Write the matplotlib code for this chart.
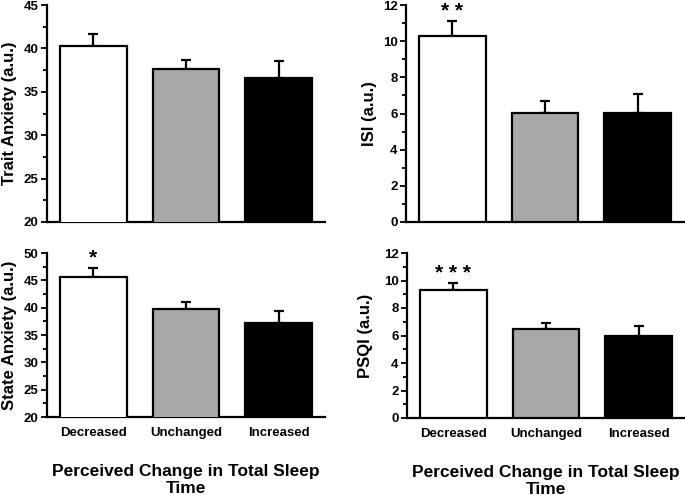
import matplotlib
matplotlib.use("Agg")
import matplotlib.pyplot as plt
import numpy as np
from matplotlib.ticker import MultipleLocator, AutoMinorLocator

plt.rcParams['font.family'] = ['Liberation Sans', 'DejaVu Sans']
plt.rcParams['font.weight'] = 'bold'
plt.rcParams['axes.labelweight'] = 'bold'

# data
groups = ["Decreased", "Unchanged", "Increased"]
bar_colors = ["white", "#a8a8a8", "black"]

trait_mean = [40.3, 37.6, 36.6]
trait_err = [1.4, 1.1, 1.9]
isi_mean = [10.3, 6.05, 6.05]
isi_err = [0.8, 0.65, 1.05]
state_mean = [45.6, 39.8, 37.2]
state_err = [1.7, 1.3, 2.2]
psqi_mean = [9.3, 6.5, 6.0]
psqi_err = [0.5, 0.4, 0.7]

trait_sig = ["", "", ""]
isi_sig = ["**", "", ""]
state_sig = ["*", "", ""]
psqi_sig = ["***", "", ""]

# (mean, err, sig, ylabel, ylim, major step, axes rect, label x, bottom row)
panels = [
    (trait_mean, trait_err, trait_sig, "Trait Anxiety (a.u.)", (20, 45), 5,
     [47/685, 1-222/495, 278/685, 217/495], -0.108, False),
    (isi_mean, isi_err, isi_sig, "ISI (a.u.)", (0, 12), 2,
     [406/685, 1-222/495, 278/685, 217/495], -0.105, False),
    (state_mean, state_err, state_sig, "State Anxiety (a.u.)", (20, 50), 5,
     [47/685, 1-417/495, 278/685, 164/495], -0.108, True),
    (psqi_mean, psqi_err, psqi_sig, "PSQI (a.u.)", (0, 12), 2,
     [407/685, 1-418/495, 278/685, 165/495], -0.123, True),
]

fig = plt.figure(figsize=(6.85, 4.95), dpi=100)
x = np.arange(len(groups))

for mean, err, sig, ylab, ylim, step, rect, labx, bottom in panels:
    ax = fig.add_axes(rect)
    ax.bar(x, mean, width=0.72, color=bar_colors, edgecolor='black',
           linewidth=1.6, zorder=3)
    ax.errorbar(x, mean, yerr=[np.zeros(len(err)), err], fmt='none',
                ecolor='black', elinewidth=1.6, capsize=3.6, capthick=1.6,
                zorder=2)
    rng = ylim[1] - ylim[0]
    for xi, m, e, s in zip(x, mean, err, sig):
        if s:
            ax.text(xi, m + e + rng * 0.002, " ".join(s), ha='center',
                    va='bottom', fontsize=15, fontweight='bold')
    ax.set_xlim(-0.5, 2.5)
    ax.set_ylim(*ylim)
    ax.yaxis.set_major_locator(MultipleLocator(step))
    ax.yaxis.set_minor_locator(AutoMinorLocator(2))
    for sp in ['top', 'right']:
        ax.spines[sp].set_visible(False)
    for sp in ['left', 'bottom']:
        ax.spines[sp].set_linewidth(1.6)
    ax.tick_params(axis='y', which='major', direction='out', length=4,
                   width=1.3, labelsize=9.5, pad=2)
    ax.tick_params(axis='y', which='minor', direction='out', length=3,
                   width=1.3)
    ax.tick_params(axis='x', length=0, labelsize=9.5, pad=7)
    ax.set_xticks(x)
    if bottom:
        ax.set_xticklabels(groups)
        ax.set_xlabel("Perceived Change in Total Sleep\nTime", fontsize=12.5,
                      labelpad=18, linespacing=1.15)
    else:
        ax.set_xticklabels([])
    ax.set_ylabel(ylab, fontsize=12)
    ax.yaxis.set_label_coords(labx, 0.5)

fig.savefig("out.png", dpi=100)
